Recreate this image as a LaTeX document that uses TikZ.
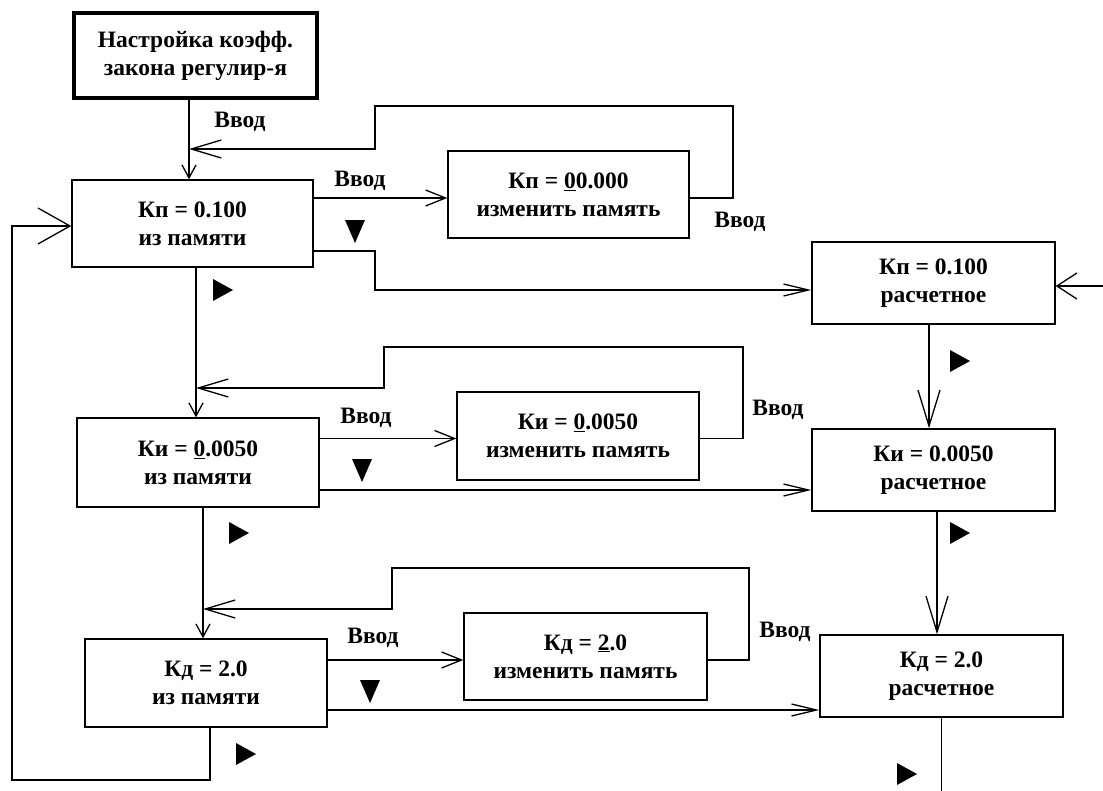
\documentclass[tikz,border=0pt]{standalone}
\usepackage{fontspec}
\setmainfont{Liberation Serif}
\usetikzlibrary{arrows.meta}
\begin{document}
\begin{tikzpicture}[x=1pt,y=-1pt,line width=1.3pt,
  txt/.style={font=\fontsize{23.5}{28}\selectfont\bfseries},
  box/.style={draw,line width=1.4pt,align=center,inner sep=0pt,txt},
  arS/.style={-{Straight Barb[length=13pt,width=14pt]}},
  arF/.style={-{Straight Barb[length=30pt,width=18pt]}},
  arL/.style={-{Straight Barb[length=32pt,width=36pt]}},
  arC/.style={-{Straight Barb[length=20pt,width=16pt]}},
  arR/.style={-{Straight Barb[length=25pt,width=12pt]}},
  arV/.style={-{Straight Barb[length=36pt,width=22pt]}},
  arE/.style={-{Straight Barb[length=20pt,width=26pt]}},
  rtri/.pic={\fill (-10,-11) -- (10,0) -- (-10,11) -- cycle;},
  dtri/.pic={\fill (-10,-11) -- (10,-11) -- (0,12) -- cycle;}
]
\useasboundingbox (0,0) rectangle (1103,790);
% boxes
\node[box,line width=4pt,minimum width=243pt,minimum height=85pt] (top) at (195.5,55.5) {Настройка коэфф.\\закона регулир-я};
\node[box,minimum width=241pt,minimum height=87pt] (kpm) at (192.5,223.5) {Кп = 0.100\\из памяти};
\node[box,minimum width=241pt,minimum height=87pt] (kpc) at (568.5,194.5) {Кп = \underline{0}0.000\\изменить память};
\node[box,minimum width=243pt,minimum height=82pt] (kpr) at (933.5,283) {Кп = 0.100\\расчетное};
\node[box,minimum width=242pt,minimum height=89pt] (kim) at (198,462.5) {Ки = \underline{0}.0050\\из памяти};
\node[box,minimum width=242pt,minimum height=88pt] (kic) at (578,436) {Ки = \underline{0}.0050\\изменить память};
\node[box,minimum width=243pt,minimum height=82pt] (kir) at (933.5,470) {Ки = 0.0050\\расчетное};
\node[box,minimum width=242pt,minimum height=88pt] (kdm) at (206,683) {Кд = 2.0\\из памяти};
\node[box,minimum width=243pt,minimum height=87pt] (kdc) at (585.5,656.5) {Кд = \underline{2}.0\\изменить память};
\node[box,minimum width=243pt,minimum height=82pt] (kdr) at (941.5,676) {Кд = 2.0\\расчетное};
% labels
\node[txt] (l1) at (240,122) {Ввод};
\node[txt] (l2) at (360,181) {Ввод};
\node[txt] (l3) at (740,222) {Ввод};
\node[txt] (l4) at (366,418) {Ввод};
\node[txt] (l5) at (778,410) {Ввод};
\node[txt] (l6) at (373,638) {Ввод};
\node[txt] (l7) at (785,632) {Ввод};
% triangles
\pic at (355,231) {dtri};
\pic at (223,290) {rtri};
\pic at (960,361) {rtri};
\pic at (362,470) {dtri};
\pic at (239,533) {rtri};
\pic at (960,533) {rtri};
\pic at (370,691) {dtri};
\pic at (246,754) {rtri};
\pic at (907,774) {rtri};
% coordinates
\coordinate (ts) at ([xshift=-6.5pt]top.south);
\coordinate (j1) at (189,149);
\coordinate (b1) at (733,106);
\coordinate (b2) at (375,149);
\coordinate (kpcin) at ([yshift=-3.5pt]kpc.west);
\coordinate (kpcout) at ([yshift=-3.5pt]kpc.east);
\coordinate (kpmo) at ([yshift=-27.5pt]kpm.east);
\coordinate (c1) at (375,270);
\coordinate (kprin) at ([yshift=-7pt]kpr.west);
\coordinate (rin) at (1103,286);
\coordinate (kdms) at ([xshift=4pt]kdm.south);
\coordinate (L1) at (12,780);
\coordinate (kpmin) at ([yshift=-2.5pt]kpm.west);
\coordinate (kpms) at ([xshift=3.5pt]kpm.south);
\coordinate (j2) at (196,388);
\coordinate (b3) at (743,347);
\coordinate (b4) at (384,388);
\coordinate (kicin) at ([yshift=-2.5pt]kic.west);
\coordinate (kicout) at ([yshift=-2.5pt]kic.east);
\coordinate (kimo) at ([yshift=-27.5pt]kim.east);
\coordinate (kprs) at ([xshift=-4.5pt]kpr.south);
\coordinate (kims) at ([xshift=5pt]kim.south);
\coordinate (j3) at (203,609);
\coordinate (b5) at (749,568);
\coordinate (b6) at (392,609);
\coordinate (kdcin) at ([yshift=-3.5pt]kdc.west);
\coordinate (kdcout) at ([yshift=-3.5pt]kdc.east);
\coordinate (kdmo) at ([yshift=-27pt]kdm.east);
\coordinate (kirs) at ([xshift=3.5pt]kir.south);
\coordinate (bot) at (942,792);
% connectors
\draw[arS] (ts) -- (ts |- kpm.north);
\draw[arF] (kpcout) -| (b1) -| (b2) -- (j1);
\draw[arC] (kpcin -| kpm.east) -- (kpcin);
\draw[arR] (kpmo) -| (c1) |- (kprin);
\draw[arE] (rin) -- (rin -| kpr.east);
\draw[arL] (kdms) |- (L1) |- (kpmin);
\draw[arS] (kpms) -- (kpms |- kim.north);
\draw[arF] (kicout) -| (b3) -| (b4) -- (j2);
\draw[arC] (kicin -| kim.east) -- (kicin);
\draw[arR] (kimo) -- (kimo -| kir.west);
\draw[arV] (kprs) -- (kprs |- kir.north);
\draw[arS] (kims) -- (kims |- kdm.north);
\draw[arF] (kdcout) -| (b5) -| (b6) -- (j3);
\draw[arC] (kdcin -| kdm.east) -- (kdcin);
\draw[arR] (kdmo) -- (kdmo -| kdr.west);
\draw[arV] (kirs) -- (kirs |- kdr.north);
\draw (kdr.south) -- (kdr.south |- bot);
\end{tikzpicture}
\end{document}
